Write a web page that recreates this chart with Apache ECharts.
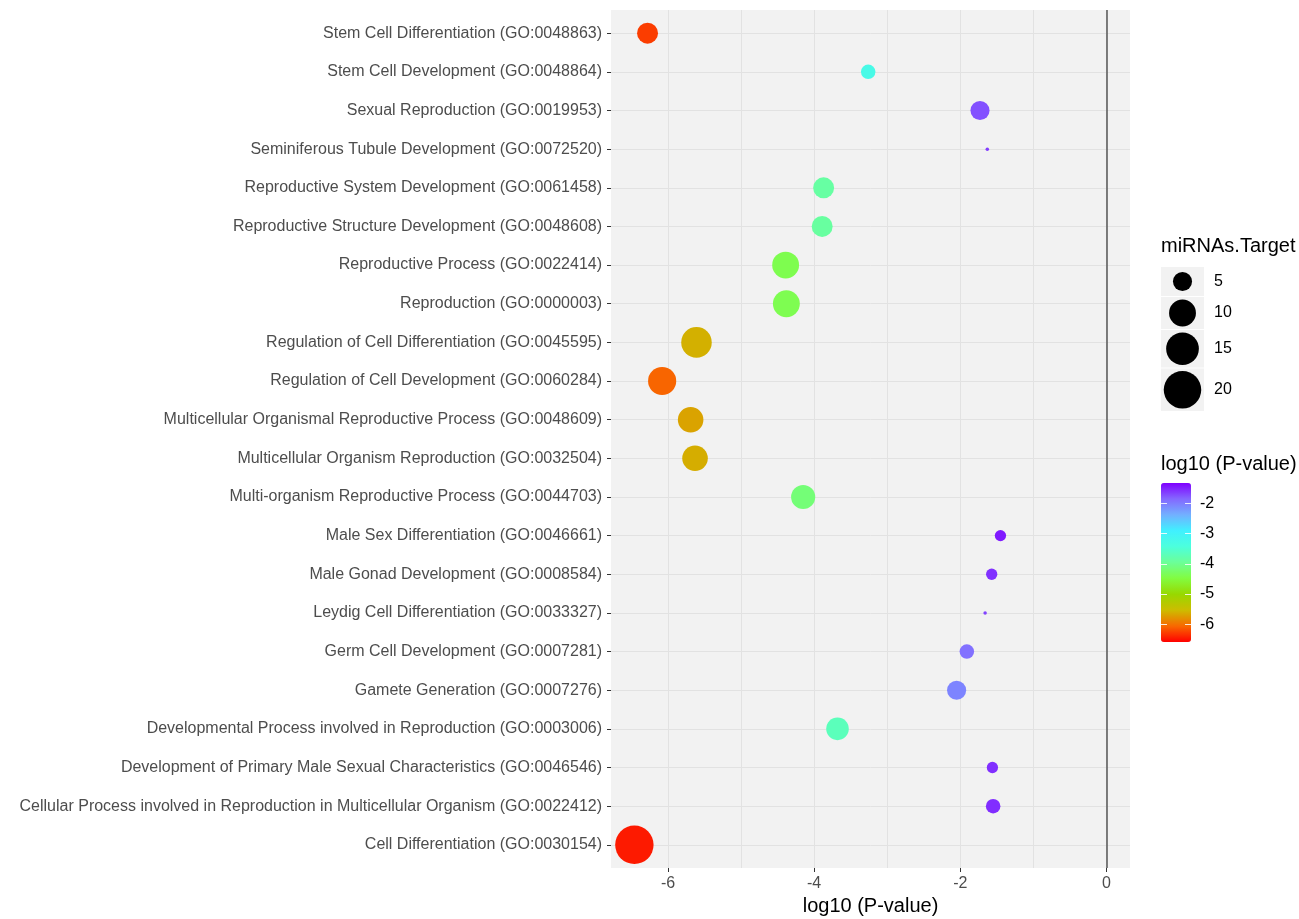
<!DOCTYPE html>
<html>
<head>
<meta charset="utf-8">
<title>GO enrichment</title>
<script src="https://cdn.jsdelivr.net/npm/echarts@6/dist/echarts.min.js"></script>
<style>
  html, body { margin: 0; padding: 0; background: #ffffff; }
  #chart { width: 1299px; height: 919px; }
</style>
</head>
<body>
<div id="chart"></div>
<script>
// GO terms, listed bottom-to-top on the category axis
const categories = [
  'Cell Differentiation (GO:0030154)',
  'Cellular Process involved in Reproduction in Multicellular Organism (GO:0022412)',
  'Development of Primary Male Sexual Characteristics (GO:0046546)',
  'Developmental Process involved in Reproduction (GO:0003006)',
  'Gamete Generation (GO:0007276)',
  'Germ Cell Development (GO:0007281)',
  'Leydig Cell Differentiation (GO:0033327)',
  'Male Gonad Development (GO:0008584)',
  'Male Sex Differentiation (GO:0046661)',
  'Multi-organism Reproductive Process (GO:0044703)',
  'Multicellular Organism Reproduction (GO:0032504)',
  'Multicellular Organismal Reproductive Process (GO:0048609)',
  'Regulation of Cell Development (GO:0060284)',
  'Regulation of Cell Differentiation (GO:0045595)',
  'Reproduction (GO:0000003)',
  'Reproductive Process (GO:0022414)',
  'Reproductive Structure Development (GO:0048608)',
  'Reproductive System Development (GO:0061458)',
  'Seminiferous Tubule Development (GO:0072520)',
  'Sexual Reproduction (GO:0019953)',
  'Stem Cell Development (GO:0048864)',
  'Stem Cell Differentiation (GO:0048863)'
];

// log10 (P-value) per term
const logP = [
  -6.46, -1.55, -1.56, -3.68, -2.05, -1.91, -1.66, -1.57, -1.45, -4.15, -5.63,
  -5.69, -6.08, -5.61, -4.38, -4.39, -3.89, -3.87, -1.63, -1.73, -3.26, -6.28
];

// number of miRNA targets per term
const targets = [
  21, 3, 2, 7, 5, 3, 1, 2, 2, 8, 9,
  9, 11, 13, 10, 10, 6, 6, 1, 5, 3, 6
];

const xTickValues = [-6, -4, -2, 0];
const xGridValues = [-6, -5, -4, -3, -2, -1, 0];
const sizeBreaks = [5, 10, 15, 20];
const colorBreaks = [-6, -5, -4, -3, -2];
const colorRange = [-6.59, -1.32];
const colorStops = [
  '#ff0000', '#f86800', '#cdbc00', '#98d800', '#82fc40', '#6cff98',
  '#4cffdc', '#40f0ff', '#72b0ff', '#8468ff', '#7f00ff'
];

const FONT = '"Liberation Sans", Arial, Helvetica, sans-serif';
const PANEL_BG = '#f2f2f2';
const GRID_LINE = '#e2e2e2';
const TEXT_SIZE = 16;
const TITLE_SIZE = 20;

// point diameter grows with the square root of the target count
function dotSize(n) {
  return 3.5 + 7.8 * Math.sqrt(Math.max(0, n - 1));
}

const yIdx = categories.map((_, i) => i);
const pointData = logP.map((p, i) => [p, i, targets[i]]);

// size legend: stacked key boxes, each tall enough for its circle
const keyW = 43;
const keyHeights = sizeBreaks.map(v => Math.max(29, dotSize(v) + 5));
const keyGap = 1;
const keyCenters = [];
let acc = 0;
keyHeights.forEach((h, i) => {
  keyCenters.push(acc + h / 2);
  acc += h + keyGap;
});
const legendH = acc - keyGap;

const chart = echarts.init(document.getElementById('chart'), null, { renderer: 'canvas' });

chart.setOption({
  animation: false,
  backgroundColor: '#ffffff',
  textStyle: { fontFamily: FONT },
  title: [
    { text: 'miRNAs.Target', left: 1161, top: 236, padding: 0,
      textStyle: { fontFamily: FONT, fontSize: TITLE_SIZE, fontWeight: 'normal', color: '#000' } },
    { text: 'log10 (P-value)', left: 1161, top: 454, padding: 0,
      textStyle: { fontFamily: FONT, fontSize: TITLE_SIZE, fontWeight: 'normal', color: '#000' } }
  ],
  grid: [
    { left: 611, top: 10, width: 519, height: 858, show: true,
      backgroundColor: PANEL_BG, borderWidth: 0, outerBoundsMode: 'none' },
    { left: 1161, top: 267, width: keyW, height: legendH, show: false, outerBoundsMode: 'none' },
    { left: 1161, top: 483, width: 30, height: 159, show: false, outerBoundsMode: 'none' }
  ],
  xAxis: [
    { // main axis: labels, gridlines
      gridIndex: 0, type: 'value', min: -6.78, max: 0.323,
      name: 'log10 (P-value)', nameLocation: 'middle', nameGap: 27,
      nameTextStyle: { fontFamily: FONT, fontSize: TITLE_SIZE, color: '#000' },
      axisLine: { show: false, onZero: false },
      axisTick: { show: false, customValues: xGridValues },
      axisLabel: { customValues: xTickValues, color: '#4d4d4d', fontSize: TEXT_SIZE,
        fontFamily: FONT, margin: 8 },
      splitLine: { show: true, lineStyle: { color: GRID_LINE, width: 1 } }
    },
    { // tick marks under labelled values
      gridIndex: 0, type: 'value', min: -6.78, max: 0.323, position: 'bottom',
      axisLine: { show: false, onZero: false },
      axisTick: { show: true, customValues: xTickValues, length: 4,
        lineStyle: { color: '#333', width: 1 } },
      axisLabel: { show: false },
      splitLine: { show: false }
    },
    { gridIndex: 1, type: 'value', min: 0, max: 1, show: false },
    { gridIndex: 2, type: 'value', min: 0, max: 1, show: false }
  ],
  yAxis: [
    { gridIndex: 0, type: 'value', min: -0.6, max: categories.length - 0.4,
      position: 'left',
      axisLine: { show: false, onZero: false },
      axisTick: { show: true, customValues: yIdx, length: 4,
        lineStyle: { color: '#333', width: 1 } },
      axisLabel: { customValues: yIdx, formatter: v => categories[Math.round(v)],
        color: '#4d4d4d', fontSize: TEXT_SIZE, fontFamily: FONT, margin: 9 },
      splitLine: { show: true, lineStyle: { color: GRID_LINE, width: 1 } }
    },
    { gridIndex: 1, type: 'value', min: 0, max: legendH, inverse: true, show: false },
    { // colour bar ticks, left side
      gridIndex: 2, type: 'value', min: colorRange[0], max: colorRange[1],
      position: 'left', z: 10,
      axisLine: { show: false, onZero: false },
      axisTick: { show: true, inside: true, length: 6, customValues: colorBreaks,
        lineStyle: { color: 'rgba(255,255,255,0.85)', width: 1 } },
      axisLabel: { show: false },
      splitLine: { show: false }
    },
    { // colour bar ticks and labels, right side
      gridIndex: 2, type: 'value', min: colorRange[0], max: colorRange[1],
      position: 'right', z: 10,
      axisLine: { show: false, onZero: false },
      axisTick: { show: true, inside: true, length: 6, customValues: colorBreaks,
        lineStyle: { color: 'rgba(255,255,255,0.85)', width: 1 } },
      axisLabel: { customValues: colorBreaks, color: '#000', fontSize: TEXT_SIZE,
        fontFamily: FONT, margin: 9 },
      splitLine: { show: false }
    }
  ],
  visualMap: {
    type: 'continuous',
    seriesIndex: 0,
    dimension: 0,
    min: colorRange[0],
    max: colorRange[1],
    calculable: false,
    realtime: false,
    left: 1161,
    top: 483,
    padding: 0,
    itemWidth: 30,
    itemHeight: 159,
    text: null,
    inRange: { color: colorStops },
    hoverLink: false
  },
  series: [
    {
      name: 'terms',
      type: 'scatter',
      xAxisIndex: 0, yAxisIndex: 0,
      data: pointData,
      symbol: 'circle',
      symbolSize: v => dotSize(v[2]),
      itemStyle: { opacity: 1, borderWidth: 0 },
      silent: true,
      z: 3,
      markLine: {
        silent: true,
        symbol: ['none', 'none'],
        label: { show: false },
        lineStyle: { color: '#5f5f5f', width: 1.6, type: 'solid', opacity: 1 },
        data: [{ xAxis: 0 }]
      }
    },
    { // size legend key backgrounds with labels
      type: 'scatter',
      xAxisIndex: 2, yAxisIndex: 1,
      data: sizeBreaks.map((v, i) => ({ value: [0.5, keyCenters[i]],
        symbolSize: [keyW, keyHeights[i]], name: String(v) })),
      symbol: 'rect',
      itemStyle: { color: PANEL_BG, opacity: 1 },
      label: { show: true, position: 'right', distance: 10,
        formatter: p => p.name, color: '#000', fontSize: TEXT_SIZE, fontFamily: FONT },
      silent: true,
      z: 2
    },
    { // size legend circles
      type: 'scatter',
      xAxisIndex: 2, yAxisIndex: 1,
      data: sizeBreaks.map((v, i) => [0.5, keyCenters[i], v]),
      symbol: 'circle',
      symbolSize: v => dotSize(v[2]),
      itemStyle: { color: '#000', opacity: 1 },
      silent: true,
      z: 3
    }
  ]
});
</script>
</body>
</html>
